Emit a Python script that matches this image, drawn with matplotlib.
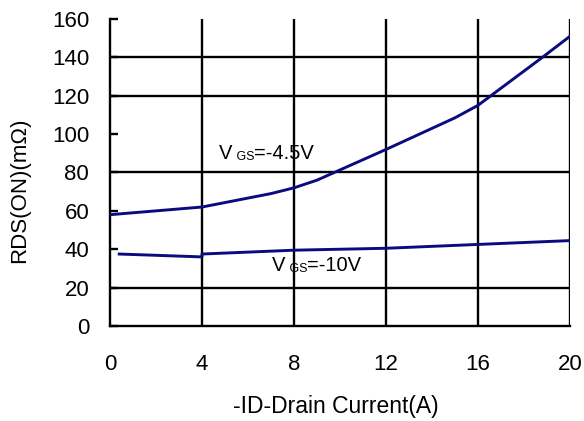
import matplotlib
matplotlib.use("Agg")
import matplotlib.pyplot as plt

plt.rcParams["font.family"] = ["Liberation Sans", "DejaVu Sans"]

# ток стока, А и сопротивление, мОм
id_45 = [0, 4, 7, 8, 9, 12, 14, 15, 16, 18.8, 20]
rds_45 = [58, 62, 69, 72, 76, 92, 103, 108.5, 115, 140, 151]

id_10 = [0.4, 4, 4, 8, 12, 16, 20]
rds_10 = [37.5, 36, 37.5, 39.5, 40.5, 42.5, 44.5]

x_ticks = [0, 4, 8, 12, 16, 20]
y_ticks = [0, 20, 40, 60, 80, 100, 120, 140, 160]
y_grid = [20, 80, 120, 140]

fig = plt.figure(figsize=(5.84, 4.21), dpi=100)
ax = fig.add_axes([0.1884, 0.2257, 0.7876, 0.7292])

ax.set_xlim(0, 20)
ax.set_ylim(0, 160)

for v in x_ticks[1:]:
    ax.axvline(v, color="black", lw=1.7, zorder=1)
for v in y_grid:
    ax.axhline(v, color="black", lw=1.7, zorder=1)

ax.plot(id_45, rds_45, color="#0b0b80", lw=2.1, zorder=3)
ax.plot(id_10, rds_10, color="#0b0b80", lw=2.1, zorder=3)

ax.spines["top"].set_visible(False)
ax.spines["right"].set_visible(False)
ax.spines["left"].set_linewidth(1.7)
ax.spines["bottom"].set_linewidth(1.7)

ax.set_xticks(x_ticks)
ax.set_yticks(y_ticks)
ax.tick_params(axis="x", length=0, pad=20, labelsize=16)
ax.tick_params(axis="y", direction="in", length=6, width=1.7, pad=15, labelsize=16)

t1 = ax.text(4.75, 90, "V", fontsize=14.5, va="center", ha="left")
t2 = ax.annotate(" GS", xy=(1, 0), xycoords=t1, va="bottom", ha="left", fontsize=9)
ax.annotate("=-4.5V", xy=(1, 0), xycoords=t2, va="bottom", ha="left", fontsize=14.5)

t3 = ax.text(7.05, 31.5, "V", fontsize=14.5, va="center", ha="left")
t4 = ax.annotate(" GS", xy=(1, 0), xycoords=t3, va="bottom", ha="left", fontsize=9)
ax.annotate("=-10V", xy=(1, 0), xycoords=t4, va="bottom", ha="left", fontsize=14.5)

fig.text(0.575, 1 - 407 / 421, "-ID-Drain Current(A)", fontsize=16.5, ha="center", va="center")
fig.text(20 / 584, 1 - 190 / 421, "RDS(ON)(m\u03a9)", fontsize=16, ha="center", va="center", rotation=90)

fig.savefig("out.png", dpi=100)
